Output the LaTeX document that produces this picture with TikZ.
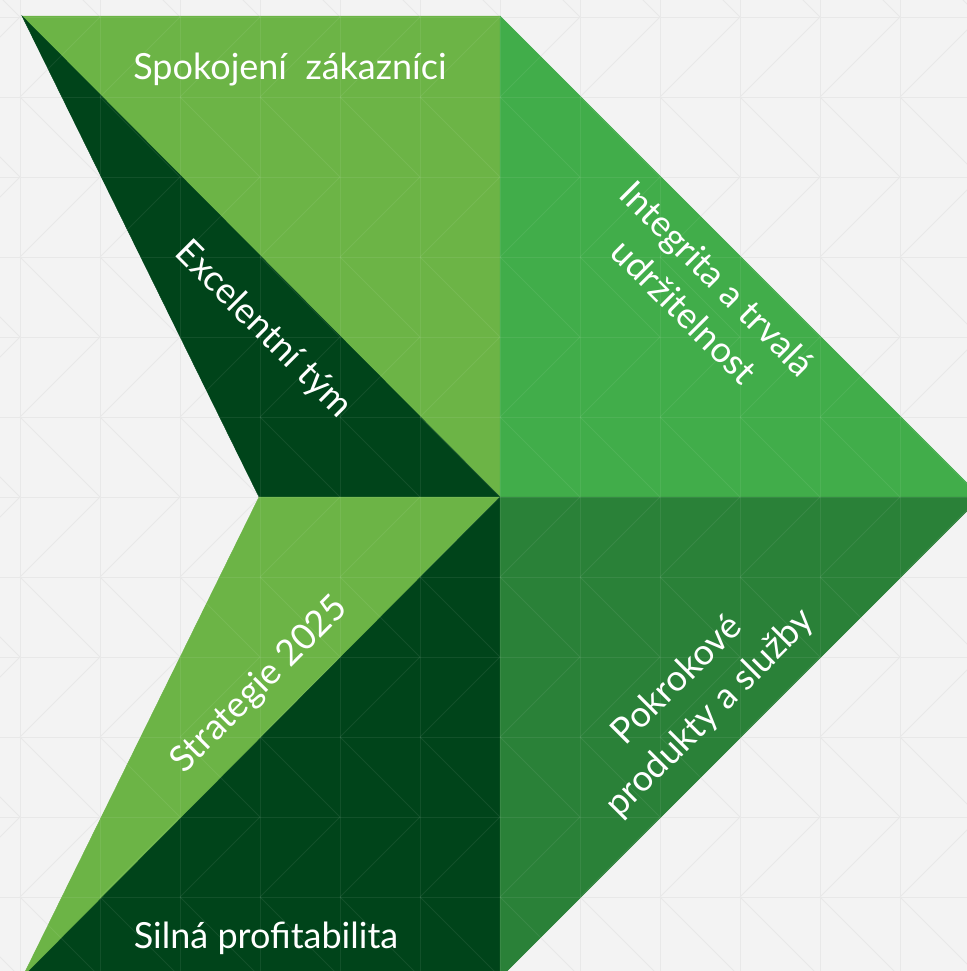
\documentclass[tikz,border=0pt]{standalone}
\usepackage{fontspec}
\setmainfont{Lato}
\definecolor{bggray}{HTML}{F3F3F3}
\definecolor{gridgray}{HTML}{E8E8E8}
\definecolor{lightgreen}{HTML}{6CB446}
\definecolor{darkgreen}{HTML}{00441A}
\definecolor{midgreen}{HTML}{41AD4A}
\definecolor{deepgreen}{HTML}{2A8138}
\newcommand{\cellgrid}[1]{%
  \foreach \i in {0,...,12} \draw[#1] ({20+80*\i},0) -- ({20+80*\i},971);
  \foreach \j in {0,...,12} \draw[#1] (0,{17+80*\j}) -- (967,{17+80*\j});
  \foreach \j in {-1,...,11} {
    \foreach \i in {-1,...,12} {
      \ifodd\j
        \draw[#1] ({20+80*\i},{17+80*\j}) -- ({100+80*\i},{97+80*\j});
      \else
        \draw[#1] ({20+80*\i},{97+80*\j}) -- ({100+80*\i},{17+80*\j});
      \fi
    }
  }
}
\begin{document}
\begin{tikzpicture}[x=0.75pt, y=-0.75pt,
    lbl/.style={text=white, font=\fontsize{27}{35}\selectfont},
    wedge/.style={fill=#1, draw=#1, line width=0.3pt}]
  \fill[bggray] (0,0) rectangle (967,971);
  \clip (0,0) rectangle (967,971);
  \cellgrid{gridgray, line width=0.6pt}

  \coordinate (tl) at (22,16);
  \coordinate (tm) at (500,16);
  \coordinate (ctr) at (500,497);
  \coordinate (notch) at (259,497);
  \coordinate (tip) at (981,497);
  \coordinate (bl) at (22,978);
  \coordinate (bm) at (500,978);

  \path[wedge=lightgreen] (tl) -- (tm) -- (ctr) -- cycle;
  \path[wedge=darkgreen] (tl) -- (ctr) -- (notch) -- cycle;
  \path[wedge=midgreen] (tm) -- (tip) -- (ctr) -- cycle;
  \path[wedge=lightgreen] (notch) -- (ctr) -- (bl) -- cycle;
  \path[wedge=darkgreen] (ctr) -- (bm) -- (bl) -- cycle;
  \path[wedge=deepgreen] (ctr) -- (tip) -- (bm) -- cycle;

  \begin{scope}
    \clip (tl) -- (tm) -- (tip) -- (bm) -- (bl) -- (notch) -- cycle;
    \cellgrid{white, opacity=0.07, line width=0.6pt}
  \end{scope}

  \node[lbl] (cust) at (290,70) {Spokojení~ zákazníci};
  \node[lbl, rotate=-45] (team) at (263,330) {Excelentní tým};
  \node[lbl, rotate=-45, align=center] (integ) at (701,295) {Integrita a trvalá\\udržitelnost};
  \node[lbl, rotate=45] (strat) at (260,685) {Strategie 2025};
  \node[lbl, rotate=45, align=center] (prod) at (694,697) {Pokrokové\\produkty a služby};
  \node[lbl] (profit) at (266,938) {Silná profitabilita};
\end{tikzpicture}
\end{document}
